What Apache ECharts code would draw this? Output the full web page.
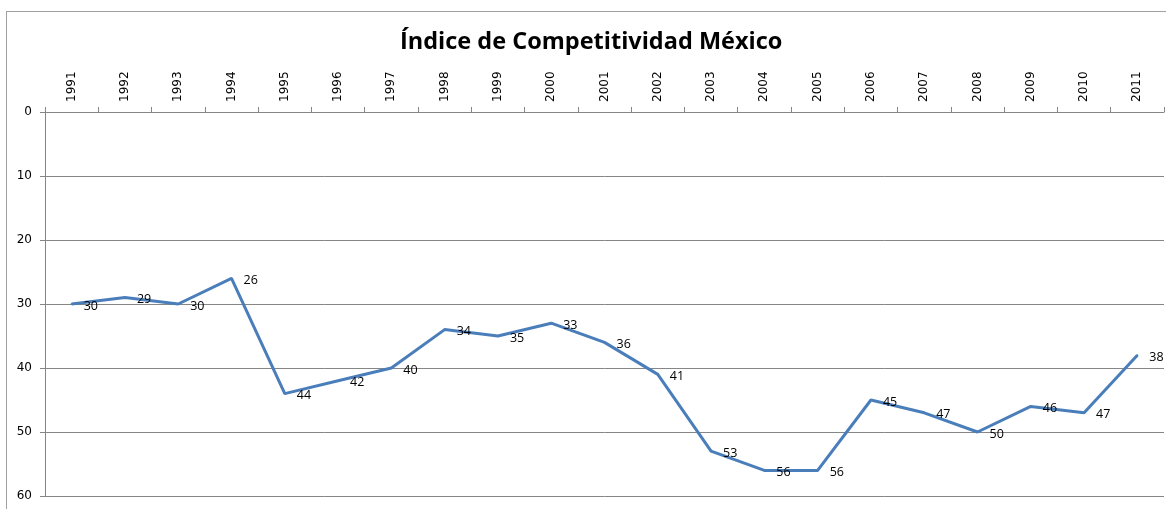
<!DOCTYPE html>
<html>
<head>
<meta charset="utf-8">
<script src="https://cdn.jsdelivr.net/npm/echarts@6/dist/echarts.min.js"></script>
<style>
  html, body { margin: 0; padding: 0; background: #fff; overflow: hidden; }
  #main { position: absolute; left: 0; top: 0; width: 1166px; height: 509px; }
  #frame { position: absolute; left: 6px; top: 11px; width: 1170px; height: 510px; border: 1px solid #a0a0a0; }
</style>
</head>
<body>
<div id="frame"></div>
<div id="main"></div>
<script>
// años y posición de México en el índice
var years = ['1991', '1992', '1993', '1994', '1995', '1996', '1997', '1998', '1999', '2000', '2001',
  '2002', '2003', '2004', '2005', '2006', '2007', '2008', '2009', '2010', '2011'];
var ranking = [30, 29, 30, 26, 44, 42, 40, 34, 35, 33, 36, 41, 53, 56, 56, 45, 47, 50, 46, 47, 38];
var yTicks = [0, 10, 20, 30, 40, 50, 60];

var chart = echarts.init(document.getElementById('main'));

var option = {
  animation: false,
  title: {
    text: 'Índice de Competitividad México',
    left: 400,
    top: 30,
    padding: 0,
    textStyle: {
      fontFamily: 'Open Sans',
      fontWeight: 'bold',
      fontSize: 23.5,
      color: '#000'
    }
  },
  grid: {
    left: 45,
    right: 2,
    top: 112,
    bottom: 13
  },
  xAxis: {
    type: 'category',
    position: 'top',
    boundaryGap: true,
    data: years,
    axisLine: { lineStyle: { color: '#868686', width: 1 } },
    axisTick: { show: true, inside: false, length: 5, lineStyle: { color: '#868686' } },
    axisLabel: {
      rotate: 90,
      margin: 10,
      fontFamily: 'DejaVu Sans',
      fontSize: 12,
      color: '#000'
    }
  },
  yAxis: {
    type: 'value',
    inverse: true,
    min: yTicks[0],
    max: yTicks[yTicks.length - 1],
    interval: 10,
    axisLine: { show: true, lineStyle: { color: '#868686', width: 1 } },
    axisTick: { show: true, length: 5, lineStyle: { color: '#868686' } },
    axisLabel: {
      margin: 13,
      fontFamily: 'DejaVu Sans',
      fontSize: 12,
      color: '#000'
    },
    splitLine: { show: true, lineStyle: { color: '#868686', width: 1 } }
  },
  series: [{
    name: 'México',
    type: 'line',
    data: ranking,
    symbol: 'circle',
    symbolSize: 2,
    itemStyle: { color: '#4a7ebb' },
    lineStyle: { color: '#4a7ebb', width: 3 },
    label: {
      show: true,
      position: 'right',
      distance: 11,
      offset: [0, 2],
      fontFamily: 'Open Sans',
      fontSize: 12.5,
      color: '#000'
    }
  }]
};

chart.setOption(option);
</script>
</body>
</html>
